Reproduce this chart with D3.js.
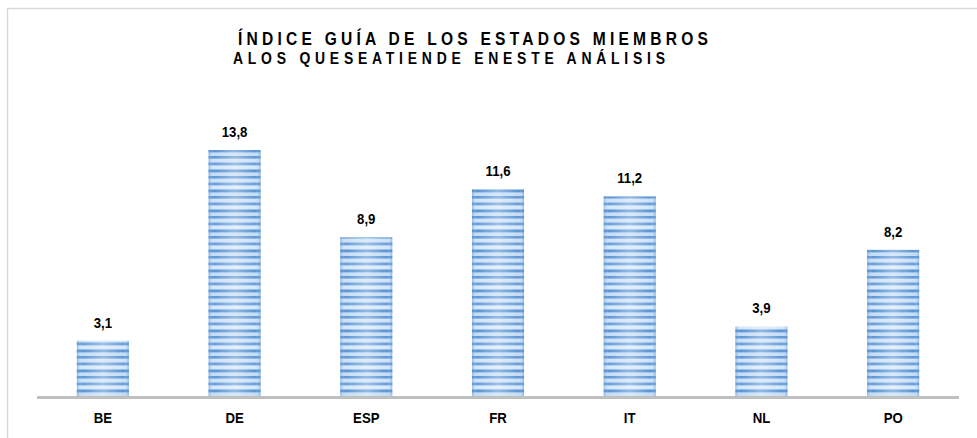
<!DOCTYPE html>
<html><head><meta charset="utf-8">
<script src="https://cdn.jsdelivr.net/npm/d3@7"></script>
<style>html,body{margin:0;padding:0;background:#fff;}svg{display:block;}</style>
</head><body>
<svg id="chart" width="977" height="438"></svg>
<script>
const categories = ["BE","DE","ESP","FR","IT","NL","PO"];
const values = [3.1,13.8,8.9,11.6,11.2,3.9,8.2];
const valueLabels = ["3,1","13,8","8,9","11,6","11,2","3,9","8,2"];
const titleLines = ["ÍNDICE GUÍA DE LOS ESTADOS MIEMBROS","ALOS QUESEATIENDE ENESTE ANÁLISIS"];

const svg = d3.select("#chart");
const W = 977, H = 438;
const x0 = 37, x1 = 959, baseY = 396;
const FONT = "Liberation Sans, Arial, sans-serif";

const defs = svg.append("defs");
const pat = defs.append("pattern").attr("id","stripes").attr("patternUnits","userSpaceOnUse")
  .attr("width",10).attr("height",20).attr("y", baseY);
const stripes = [[0,2,"#5e97d6"],[2,1,"#8fb9e6"],[3,3,"#cde1f6"],[6,1,"#9cc2ea"],[7,2,"#6a9fda"],[9,1,"#a9cbee"],[10,3,"#d6e7f8"],[13,1,"#8fb9e6"],[14,2,"#5b94d4"],[16,1,"#9cc2ea"],[17,3,"#c4dcf4"]];
stripes.forEach(s=>pat.append("rect").attr("x",0).attr("y",s[0]).attr("width",10).attr("height",s[1]).attr("fill",s[2]));
const hg = defs.append("linearGradient").attr("id","hgrad").attr("x1","0").attr("x2","1").attr("y1","0").attr("y2","0");
hg.append("stop").attr("offset","0").attr("stop-color","#3f7fc6").attr("stop-opacity",0.4);
hg.append("stop").attr("offset","0.1").attr("stop-color","#ffffff").attr("stop-opacity",0.0);
hg.append("stop").attr("offset","0.5").attr("stop-color","#ffffff").attr("stop-opacity",0.35);
hg.append("stop").attr("offset","0.9").attr("stop-color","#ffffff").attr("stop-opacity",0.0);
hg.append("stop").attr("offset","1").attr("stop-color","#3f7fc6").attr("stop-opacity",0.4);

svg.append("line").attr("x1",7).attr("x2",W).attr("y1",8.5).attr("y2",8.5).attr("stroke","#d9d9d9").attr("stroke-width",1.5);
svg.append("line").attr("x1",7.5).attr("x2",7.5).attr("y1",8).attr("y2",H).attr("stroke","#d9d9d9").attr("stroke-width",1.5);

const x = d3.scaleBand().domain(categories).range([x0,x1]).paddingInner(0.605).paddingOuter(0.3025);
const y = d3.scaleLinear().domain([0,13.8]).range([baseY, 150]);

const g = svg.append("g");
const data = categories.map((c,i)=>({c, v:values[i], l:valueLabels[i]}));
g.selectAll("rect.bar").data(data).join("rect").attr("class","bar")
  .attr("x",d=>x(d.c)).attr("width",x.bandwidth()).attr("y",d=>y(d.v)).attr("height",d=>baseY-y(d.v))
  .attr("fill","url(#stripes)");
g.selectAll("rect.shade").data(data).join("rect").attr("class","shade")
  .attr("x",d=>x(d.c)).attr("width",x.bandwidth()).attr("y",d=>y(d.v)).attr("height",d=>baseY-y(d.v))
  .attr("fill","url(#hgrad)");

g.selectAll("text.val").data(data).join("text").attr("class","val")
  .attr("transform",d=>`translate(${x(d.c)+x.bandwidth()/2},${y(d.v)-13}) scale(0.88,1)`)
  .attr("text-anchor","middle").attr("font-family",FONT)
  .attr("font-weight","bold").attr("font-size",15).attr("fill","#000").text(d=>d.l);

svg.append("line").attr("x1",x0).attr("x2",x1).attr("y1",baseY+1.5).attr("y2",baseY+1.5).attr("stroke","#bfbfbf").attr("stroke-width",3);
const ax = svg.append("g").attr("transform",`translate(0,${baseY+3})`).call(d3.axisBottom(x).tickSize(0).tickPadding(0));
ax.select(".domain").remove();
ax.selectAll(".tick text").attr("dy",0).attr("y",0)
  .attr("transform","translate(0,24) scale(0.88,1)")
  .attr("font-family",FONT).attr("font-weight","bold").attr("font-size",15).attr("fill","#000");

svg.append("text").attr("transform","translate(238,45) scale(0.82,1)").attr("textLength",470/0.82).attr("lengthAdjust","spacing")
  .attr("font-family",FONT).attr("font-weight","bold").attr("font-size",19).attr("fill","#000").text(titleLines[0]);
svg.append("text").attr("transform","translate(233,64) scale(0.82,1)").attr("textLength",432/0.82).attr("lengthAdjust","spacing")
  .attr("font-family",FONT).attr("font-weight","bold").attr("font-size",17).attr("fill","#000").text(titleLines[1]);
</script>
</body></html>
